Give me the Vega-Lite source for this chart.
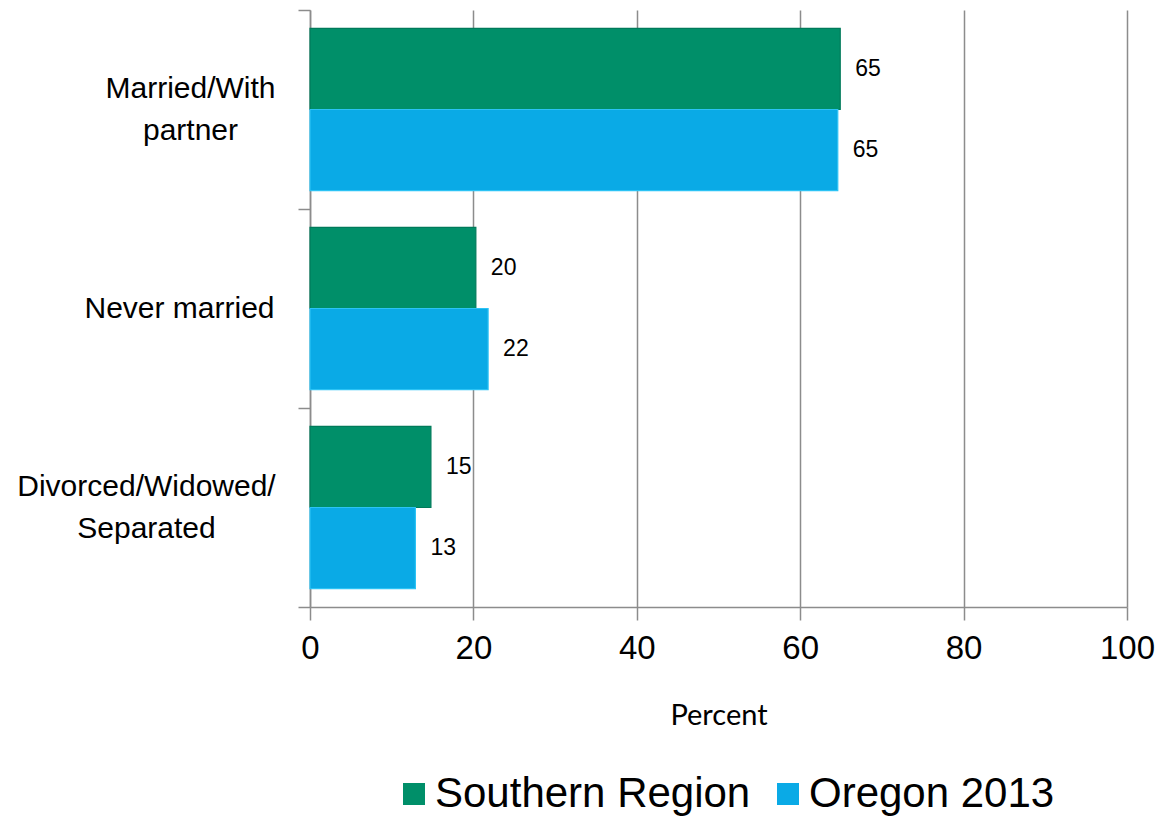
{
  "$schema": "https://vega.github.io/schema/vega-lite/v6.json",
  "autosize": "none",
  "width": 817,
  "height": 597,
  "padding": {"left": 310, "top": 10, "right": 36, "bottom": 212},
  "background": "white",
  "data": {
    "values": [
      {"status": "Married/With partner", "series": "Southern Region", "percent": 64.9},
      {"status": "Married/With partner", "series": "Oregon 2013", "percent": 64.6},
      {"status": "Never married", "series": "Southern Region", "percent": 20.3},
      {"status": "Never married", "series": "Oregon 2013", "percent": 21.8},
      {"status": "Divorced/Widowed/Separated", "series": "Southern Region", "percent": 14.8},
      {"status": "Divorced/Widowed/Separated", "series": "Oregon 2013", "percent": 12.9}
    ]
  },
  "encoding": {
    "y": {
      "field": "status",
      "type": "nominal",
      "sort": ["Married/With partner", "Never married", "Divorced/Widowed/Separated"],
      "scale": {"paddingInner": 0, "paddingOuter": 0},
      "axis": {
        "title": null,
        "tickBand": "extent",
        "tickSize": 12,
        "tickWidth": 1.5,
        "tickColor": "#8c8c8c",
        "domainColor": "#8c8c8c",
        "domainWidth": 1.5,
        "labelFont": "Liberation Sans",
        "labelFontSize": 30,
        "labelColor": "#000000",
        "labelAlign": "center",
        "labelBaseline": "middle",
        "labelLineHeight": 42,
        "labelLimit": 0,
        "labelOffset": {"expr": "datum.value == 'Never married' ? 0 : -21"},
        "labelPadding": {"expr": "datum.value == 'Never married' ? 119 : datum.value == 'Married/With partner' ? 108 : 152"},
        "labelExpr": "datum.value == 'Married/With partner' ? ['Married/With', 'partner'] : datum.value == 'Divorced/Widowed/Separated' ? ['Divorced/Widowed/', 'Separated'] : datum.value"
      }
    },
    "yOffset": {
      "field": "series",
      "type": "nominal",
      "sort": ["Southern Region", "Oregon 2013"],
      "scale": {"paddingInner": 0, "paddingOuter": 0.228}
    },
    "x": {
      "field": "percent",
      "type": "quantitative",
      "scale": {"domain": [0, 100], "nice": false},
      "axis": {
        "title": "Percent",
        "titleFont": "Lato",
        "titleFontSize": 29,
        "titleFontWeight": "normal",
        "titleColor": "#000000",
        "titlePadding": 36,
        "values": [0, 20, 40, 60, 80, 100],
        "grid": true,
        "gridColor": "#8c8c8c",
        "gridWidth": 1.5,
        "tickSize": 13,
        "tickWidth": 1.5,
        "tickColor": "#8c8c8c",
        "domainColor": "#8c8c8c",
        "domainWidth": 1.5,
        "labelFont": "Liberation Sans",
        "labelFontSize": 33,
        "labelColor": "#000000",
        "labelPadding": 12,
        "labelFlush": false
      }
    }
  },
  "layer": [
    {
      "mark": {"type": "bar", "strokeWidth": 1.2},
      "encoding": {
        "color": {
          "field": "series",
          "type": "nominal",
          "sort": ["Southern Region", "Oregon 2013"],
          "scale": {"domain": ["Southern Region", "Oregon 2013"], "range": ["#008f69", "#0aaae6"]},
          "legend": {
            "title": null,
            "orient": "none",
            "direction": "horizontal",
            "legendX": 83,
            "legendY": 763,
            "padding": 0,
            "symbolType": "square",
            "symbolSize": 484,
            "symbolOpacity": 1,
            "symbolStrokeWidth": 0,
            "labelFont": "Liberation Sans",
            "labelFontSize": 42,
            "labelColor": "#000000",
            "labelLimit": 0,
            "labelOffset": 0,
            "columnPadding": 16
          }
        },
        "stroke": {
          "field": "series",
          "type": "nominal",
          "scale": {"domain": ["Southern Region", "Oregon 2013"], "range": ["#007a5a", "#2cc3f5"]},
          "legend": null
        }
      }
    },
    {
      "mark": {
        "type": "text",
        "align": "left",
        "baseline": "middle",
        "dx": 15,
        "font": "Liberation Sans",
        "fontSize": 23,
        "color": "#000000"
      },
      "encoding": {
        "text": {"field": "percent", "type": "quantitative", "format": ".0f"}
      }
    }
  ],
  "config": {
    "view": {"stroke": null}
  }
}
